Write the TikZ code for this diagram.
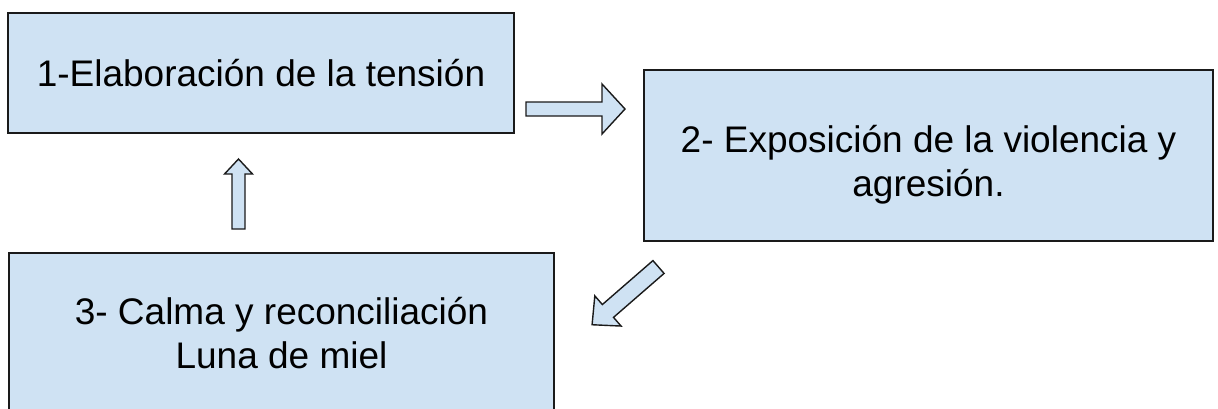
\documentclass[tikz,border=0pt]{standalone}
\usepackage{fontspec}
\setmainfont{Liberation Sans}
\definecolor{boxblue}{HTML}{CFE2F3}
\definecolor{edge}{HTML}{1A1A1A}
\tikzset{
  stagebox/.style={draw=edge, line width=1.6pt, fill=boxblue, rectangle, inner sep=0pt,
    align=center, font=\fontsize{37}{44}\selectfont},
  blockarrow/.style={draw=edge, line width=1.4pt, fill=boxblue, line join=miter}
}
% tail x, tail y, angle, length, shaft half-width, head half-width, head length
\newcommand\myblockarrow[7]{%
  \begin{scope}[shift={(#1,#2)}, rotate=#3]
    \draw[blockarrow] (0,-#5) -- ({#4-#7},-#5) -- ({#4-#7},-#6) -- (#4,0)
      -- ({#4-#7},#6) -- ({#4-#7},#5) -- (0,#5) -- cycle;
  \end{scope}}
\begin{document}
\begin{tikzpicture}[x=1pt,y=1pt]
  \useasboundingbox (0,0) rectangle (1218,-408);
  \clip (0,0) rectangle (1218,-408);
  \node[stagebox, minimum width=506pt, minimum height=120pt] (s1) at (261,-73)
    {1-Elaboración de la tensión};
  \node[stagebox, minimum width=569pt, minimum height=171pt] (s2) at (928.5,-155.5)
    {\raisebox{-10pt}[\height][\depth]{\begin{tabular}{@{}c@{}}2- Exposición de la violencia y\\agresión.\end{tabular}}};
  \node[stagebox, minimum width=545pt, minimum height=162pt] (s3) at (281.5,-334)
    {\raisebox{-4pt}[\height][\depth]{\begin{tabular}{@{}c@{}}3- Calma y reconciliación\\Luna de miel\end{tabular}}};
  \myblockarrow{526}{-109}{0}{99}{7}{25}{23}
  \myblockarrow{658.5}{-267}{221}{88}{8.5}{20}{21}
  \myblockarrow{238.5}{-229}{90}{70}{6.5}{14}{15}
\end{tikzpicture}
\end{document}
